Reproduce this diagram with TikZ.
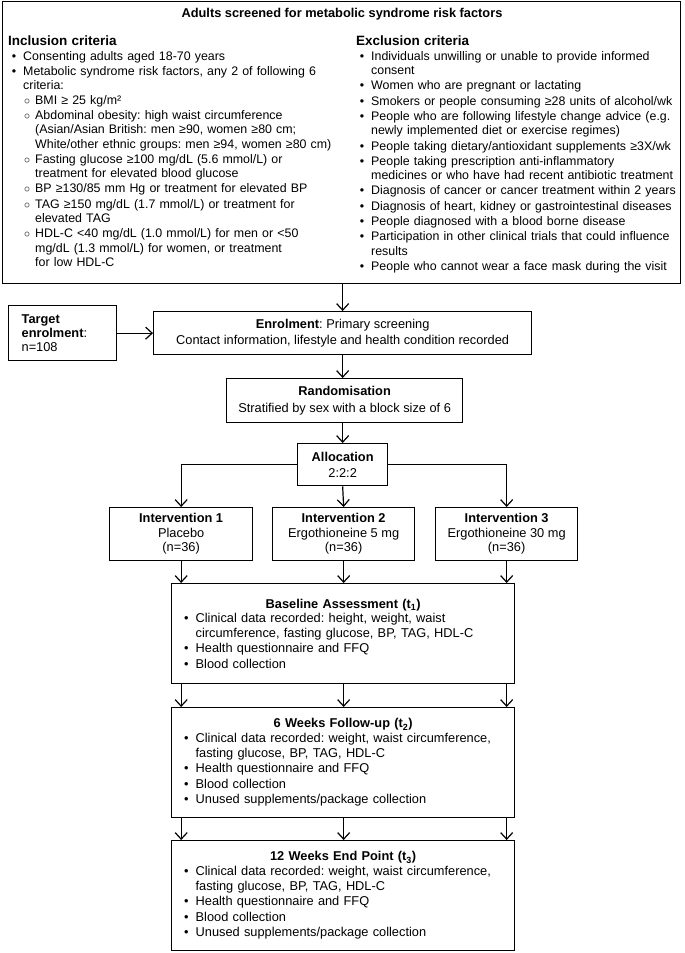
\documentclass[tikz,border=0pt]{standalone}
\usepackage{fontspec}
\setmainfont{Liberation Sans}
\usepackage{enumitem}
\usetikzlibrary{arrows.meta}
\frenchspacing
\setlist[itemize]{nosep,leftmargin=12pt,labelsep=7pt,itemsep=1pt}
\setlist[itemize,1]{label=\textbullet}
\setlist[itemize,2]{label={$\circ$},leftmargin=12pt,labelsep=5pt}

\tikzset{
  box/.style={draw,line width=1.3pt,inner sep=0pt,anchor=north west},
  column/.style={anchor=north west,inner sep=0pt,align=left,font=\fontsize{12.4}{14.3}\selectfont},
  stage/.style={box,inner xsep=12pt,text width=319pt,align=left,font=\fontsize{12.8}{14.6}\selectfont},
  arr/.style={line width=1.2pt,-{Straight Barb[length=6.5pt,width=12pt]}}
}

\begin{document}
\begin{tikzpicture}[x=1pt,y=-1pt]
		\useasboundingbox (0,0) rectangle (685,953);
		\node[box,minimum width=678pt,minimum height=282pt] (screen) at (2,1) {};
		\node[font=\fontsize{12.8}{14}\selectfont\bfseries] (title) at (342,14) {Adults screened for metabolic syndrome risk factors};
		\node[column,text width=334pt] (incl) at (8,36) {{\fontsize{13.5}{14.3}\selectfont\bfseries Inclusion criteria}\par
		\begin{itemize}[leftmargin=15pt]
		\item Consenting adults aged 18-70 years
		\item Metabolic syndrome risk factors, any 2 of following 6\\criteria:
		\begin{itemize}
		\item BMI ≥ 25 kg/m²
		\item Abdominal obesity: high waist circumference\\(Asian/Asian British: men ≥90, women ≥80 cm;\\White/other ethnic groups: men ≥94, women ≥80 cm)
		\item Fasting glucose ≥100 mg/dL (5.6 mmol/L) or\\treatment for elevated blood glucose
		\item BP ≥130/85 mm Hg or treatment for elevated BP
		\item TAG ≥150 mg/dL (1.7 mmol/L) or treatment for\\elevated TAG
		\item HDL-C <40 mg/dL (1.0 mmol/L) for men or <50\\mg/dL (1.3 mmol/L) for women, or treatment\\for low HDL-C
		\end{itemize}
		\end{itemize}};
		\node[column,text width=322pt] (excl) at (356,36) {{\fontsize{13.5}{14.3}\selectfont\bfseries Exclusion criteria}\par
		\begin{itemize}[leftmargin=15pt]
		\item Individuals unwilling or unable to provide informed\\consent
		\item Women who are pregnant or lactating
		\item Smokers or people consuming ≥28 units of alcohol/wk
		\item People who are following lifestyle change advice (e.g.\\newly implemented diet or exercise regimes)
		\item People taking dietary/antioxidant supplements ≥3X/wk
		\item People taking prescription anti-inflammatory\\medicines or who have had recent antibiotic treatment
		\item Diagnosis of cancer or cancer treatment within 2 years
		\item Diagnosis of heart, kidney or gastrointestinal diseases
		\item People diagnosed with a blood borne disease
		\item Participation in other clinical trials that could influence\\results
		\item People who cannot wear a face mask during the visit
		\end{itemize}};

		\node[box,inner xsep=13pt,text width=82pt,minimum height=55pt,align=left,font=\fontsize{12.8}{14}\selectfont] (target) at (8,305) {\textbf{Target}\\\textbf{enrolment}:\\n=108};
		\node[box,minimum width=378pt,minimum height=43pt,align=center,font=\fontsize{12.8}{16.5}\selectfont] (enrol) at (153,311) {\textbf{Enrolment}: Primary screening\\Contact information, lifestyle and health condition recorded};
		\node[box,minimum width=236pt,minimum height=44pt,align=center,font=\fontsize{12.8}{16.5}\selectfont] (rand) at (226,378) {\textbf{Randomisation}\\Stratified by sex with a block size of 6};
		\node[box,minimum width=90pt,minimum height=42pt,align=center,font=\fontsize{12.8}{16}\selectfont] (alloc) at (297,443) {\textbf{Allocation}\\2:2:2};
		\node[box,minimum width=143pt,minimum height=53pt,align=center,font=\fontsize{12.8}{14.5}\selectfont] (int1) at (109,507) {\textbf{Intervention 1}\\Placebo\\(n=36)};
		\node[box,minimum width=142pt,minimum height=53pt,align=center,font=\fontsize{12.8}{14.5}\selectfont] (int2) at (272,507) {\textbf{Intervention 2}\\Ergothioneine 5 mg\\(n=36)};
		\node[box,minimum width=142pt,minimum height=53pt,align=center,font=\fontsize{12.8}{14.5}\selectfont] (int3) at (435,507) {\textbf{Intervention 3}\\Ergothioneine 30 mg\\(n=36)};

		\node[stage,minimum height=100pt] (base) at (171,583) {{\centering\bfseries Baseline Assessment (t\textsubscript{1})\par}
		\begin{itemize}
		\item Clinical data recorded: height, weight, waist\\circumference, fasting glucose, BP, TAG, HDL-C
		\item Health questionnaire and FFQ
		\item Blood collection
		\end{itemize}};
		\node[stage,minimum height=110pt] (six) at (171,707) {{\centering\bfseries 6 Weeks Follow-up (t\textsubscript{2})\par}
		\begin{itemize}
		\item Clinical data recorded: weight, waist circumference,\\fasting glucose, BP, TAG, HDL-C
		\item Health questionnaire and FFQ
		\item Blood collection
		\item Unused supplements/package collection
		\end{itemize}};
		\node[stage,minimum height=110pt] (twelve) at (171,840) {{\centering\bfseries 12 Weeks End Point (t\textsubscript{3})\par}
		\begin{itemize}
		\item Clinical data recorded: weight, waist circumference,\\fasting glucose, BP, TAG, HDL-C
		\item Health questionnaire and FFQ
		\item Blood collection
		\item Unused supplements/package collection
		\end{itemize}};

		\draw[arr] (enrol.north |- screen.south) -- (enrol.north);
		\draw[arr] (target.east) -- (target.east -| enrol.west);
		\draw[arr] (enrol.south) -- (enrol.south |- rand.north);
		\draw[arr] (alloc.north |- rand.south) -- (alloc.north);
		\draw[arr] (alloc.west) -| (int1.north);
		\draw[arr] (alloc.south) -- (int2.north);
		\draw[arr] (alloc.east) -| (int3.north);
		\foreach \i in {1,2,3}
		{
		\draw[arr] (int\i.south) -- (int\i.south |- base.north);
		\draw[arr] (int\i.south |- base.south) -- (int\i.south |- six.north);
		\draw[arr] (int\i.south |- six.south) -- (int\i.south |- twelve.north);
		}
\end{tikzpicture}
\end{document}
